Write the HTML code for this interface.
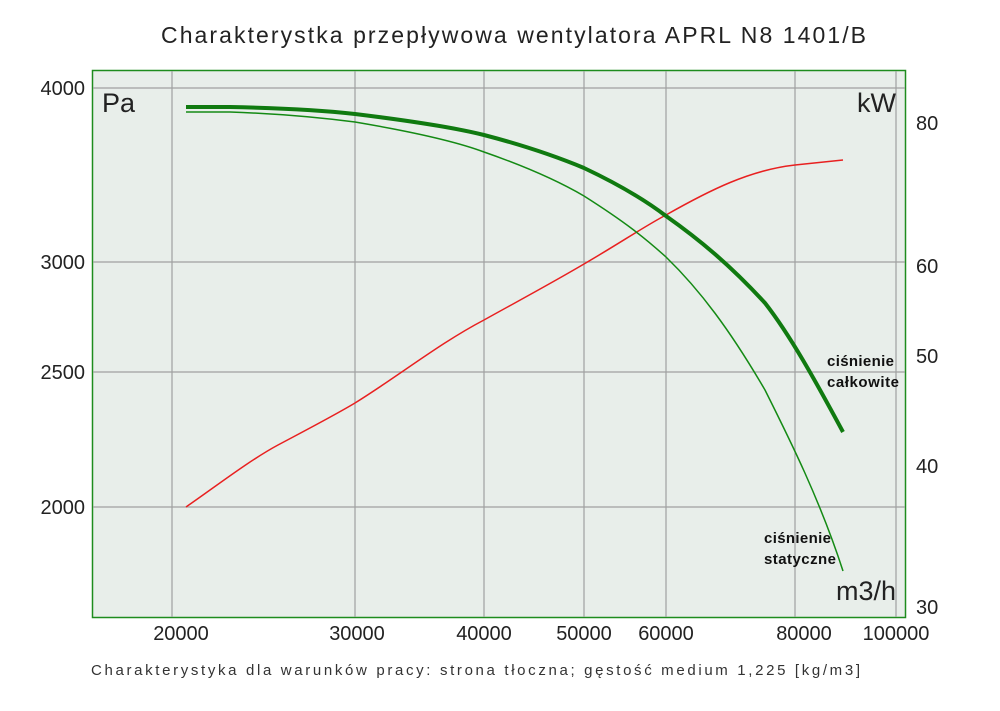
<!DOCTYPE html>
<html><head><meta charset="utf-8"><style>
body{margin:0;background:#fff;width:1000px;height:706px;overflow:hidden}
svg text{font-family:"Liberation Sans","DejaVu Sans",sans-serif}
</style></head><body>
<svg width="1000" height="706" viewBox="0 0 1000 706" xmlns="http://www.w3.org/2000/svg">
<rect x="92.5" y="70.5" width="813" height="547" fill="#e8eeea" stroke="#1e8c1e" stroke-width="1.5"/>
<g stroke="#a0a0a0" stroke-width="1.2">
<line x1="172" y1="71" x2="172" y2="617"/>
<line x1="355" y1="71" x2="355" y2="617"/>
<line x1="484" y1="71" x2="484" y2="617"/>
<line x1="584" y1="71" x2="584" y2="617"/>
<line x1="666" y1="71" x2="666" y2="617"/>
<line x1="795" y1="71" x2="795" y2="617"/>
<line x1="896" y1="71" x2="896" y2="617"/>
<line x1="93" y1="88" x2="905" y2="88"/>
<line x1="93" y1="262" x2="905" y2="262"/>
<line x1="93" y1="372" x2="905" y2="372"/>
<line x1="93" y1="507" x2="905" y2="507"/>
</g>
<path fill="none" stroke="#e82020" stroke-width="1.5" d="M186,507 C215,487 250,460 278,445 C310,428 335,415 355,403 C400,375 440,343 484,320 C520,300 550,284 584,264 C620,243 645,226 666,215 C710,190 750,170 795,165 L843,160"/>
<path fill="none" stroke="#148a14" stroke-width="1.5" d="M186,112 L230,112 C260,113 300,115 355,122 C420,133 460,143 484,152 C530,168 560,182 584,196 C625,222 645,238 666,257 C700,290 730,330 765,390 C790,440 820,500 843,571"/>
<path fill="none" stroke="#107a10" stroke-width="4" d="M186,107 L230,107 C280,108 320,110 355,114 C420,122 460,129 484,135 C530,147 560,158 584,168 C620,185 645,200 666,216 C700,240 730,265 765,303 C790,335 815,380 843,432"/>
<g font-size="20" fill="#222">
<text x="161" y="43" font-size="23" textLength="705" lengthAdjust="spacing">Charakterystka przepływowa wentylatora APRL N8 1401/B</text>
<text x="85" y="95" text-anchor="end">4000</text>
<text x="85" y="269" text-anchor="end">3000</text>
<text x="85" y="379" text-anchor="end">2500</text>
<text x="85" y="514" text-anchor="end">2000</text>
<text x="916" y="130">80</text>
<text x="916" y="273">60</text>
<text x="916" y="363">50</text>
<text x="916" y="473">40</text>
<text x="916" y="614">30</text>
<g text-anchor="middle">
<text x="181" y="640">20000</text>
<text x="357" y="640">30000</text>
<text x="484" y="640">40000</text>
<text x="584" y="640">50000</text>
<text x="666" y="640">60000</text>
<text x="804" y="640">80000</text>
<text x="896" y="640">100000</text>
</g>
<text x="102" y="112" font-size="27">Pa</text>
<text x="896" y="112" font-size="27" text-anchor="end">kW</text>
<text x="896" y="600" font-size="27" text-anchor="end">m3/h</text>
</g>
<g font-size="15" fill="#111" font-weight="bold">
<text x="827" y="366" textLength="67" lengthAdjust="spacing">ciśnienie</text>
<text x="827" y="387" textLength="72" lengthAdjust="spacing">całkowite</text>
<text x="764" y="543" textLength="67" lengthAdjust="spacing">ciśnienie</text>
<text x="764" y="564" textLength="72" lengthAdjust="spacing">statyczne</text>
</g>
<text x="91" y="675" font-size="15" fill="#333" textLength="769" lengthAdjust="spacing">Charakterystyka dla warunków pracy: strona tłoczna; gęstość medium 1,225 [kg/m3]</text>
</svg>
</body></html>
